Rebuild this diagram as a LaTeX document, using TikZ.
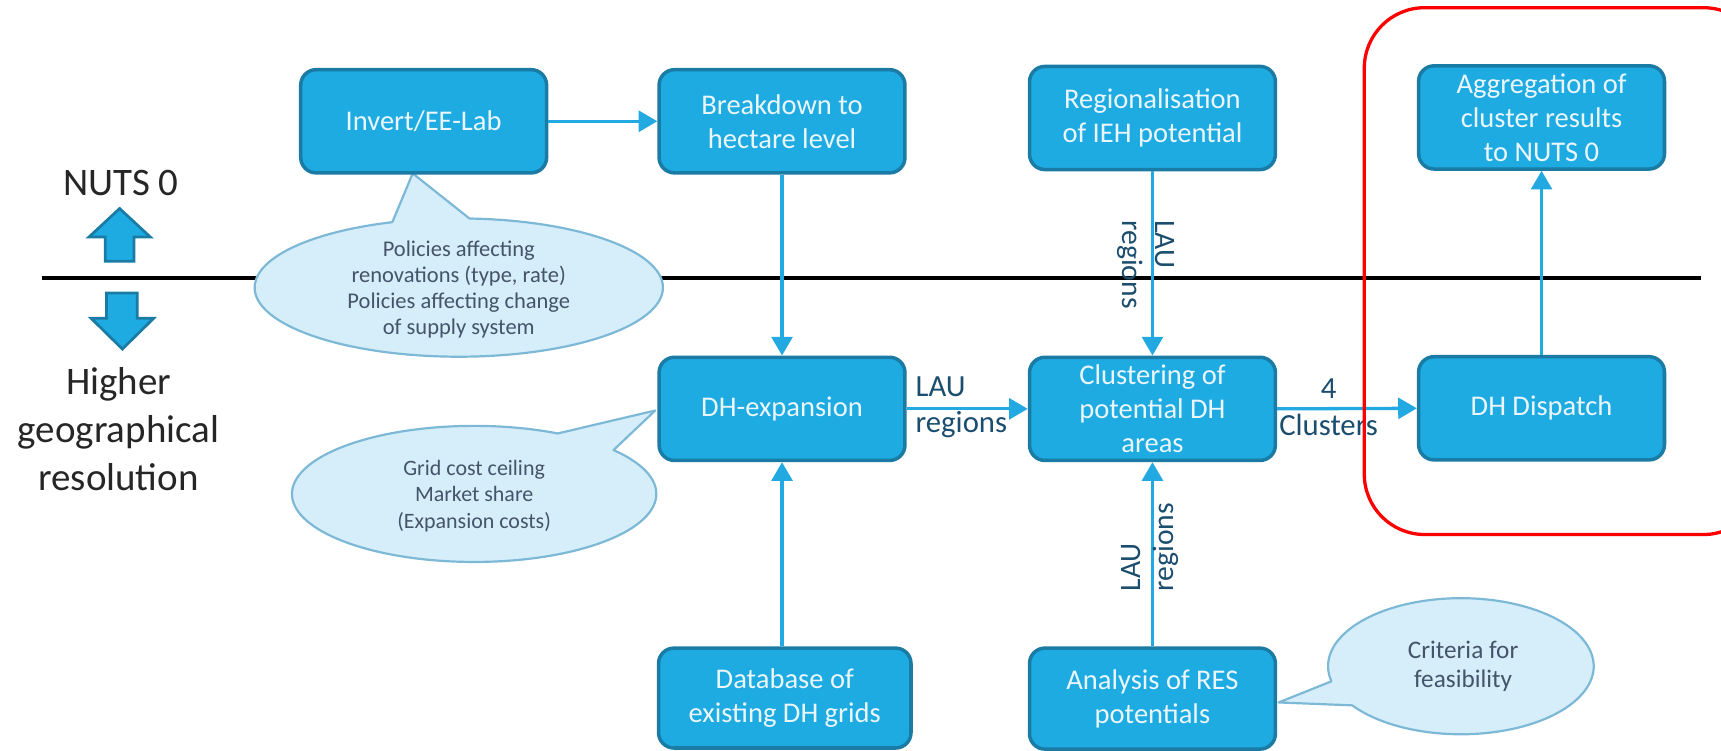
\documentclass[tikz,border=0pt]{standalone}
\usepackage{fontspec}
\setmainfont{Carlito}
\usetikzlibrary{arrows.meta,calc}
\definecolor{boxfill}{HTML}{1EABE2}
\definecolor{boxdraw}{HTML}{1A7BA5}
\definecolor{boxtext}{HTML}{EAF6FC}
\definecolor{arrowc}{HTML}{22A9E1}
\definecolor{lblc}{HTML}{1B4E6E}
\definecolor{callfill}{HTML}{D5EEF9}
\definecolor{calldraw}{HTML}{7DB9D6}
\definecolor{calltext}{HTML}{44546A}
\definecolor{titletext}{HTML}{262626}
\tikzset{
  stepbox/.style={draw=boxdraw, fill=boxfill, line width=3.2pt, rounded corners=14pt,
    minimum width=224pt, minimum height=94pt, align=center, text=boxtext,
    font=\fontsize{26}{31}\selectfont, inner sep=2pt},
  flow/.style={draw=arrowc, line width=3pt, -{Triangle[length=17pt,width=19pt]}},
  lbl/.style={text=lblc, font=\fontsize{28}{33}\selectfont, inner sep=0pt},
  vlbl/.style={text=lblc, font=\fontsize{27}{30}\selectfont, inner sep=0pt, align=left},
  callout/.style={draw=calldraw, fill=callfill, line width=2pt, line join=round},
  ctext/.style={text=calltext, align=center, font=\fontsize{20.5}{23.7}\selectfont, inner sep=0pt},
  bigarrow/.style={draw=boxdraw, fill=boxfill, line width=2.5pt, line join=miter},
  title/.style={text=titletext, align=center, font=\fontsize{35.5}{44}\selectfont, inner sep=0pt}
}
\begin{document}
\begin{tikzpicture}[x=1pt,y=-1pt]
\useasboundingbox (0,0) rectangle (1568,684);
\clip (0,0) rectangle (1568,684);

% level separator
\draw[line width=3.5pt, black] (38,253) -- (1550,253);

% left side legend
\node[title] (nuts) at (110,167) {NUTS 0};
\draw[bigarrow] (109,190) -- (137,216) -- (122,216) -- (122,238) -- (96,238) -- (96,216) -- (81,216) -- cycle;
\draw[bigarrow] (111.5,318) -- (140,290) -- (125,290) -- (125,267) -- (97,267) -- (97,290) -- (83,290) -- cycle;
\node[title] (higher) at (108,391) {Higher\\geographical\\resolution};

% callouts
\draw[callout] ($(418,262)+(273:186 and 63)$) arc[start angle=273, end angle=611, x radius=186, y radius=63] -- (376,158) -- cycle;
\node[ctext] (c1t) at (418,264) {Policies affecting\\renovations (type, rate)\\Policies affecting change\\of supply system};

\draw[callout] ($(432,450)+(319.9:166 and 62)$) arc[start angle=319.9, end angle=657.3, x radius=166, y radius=62] -- (597,374) -- cycle;
\node[ctext, font=\fontsize{20}{24}\selectfont] (c2t) at (432,452) {Grid cost ceiling\\Market share\\(Expansion costs)};

\draw[callout] ($(1331,607)+(167.2:121 and 62)$) arc[start angle=167.2, end angle=504.9, x radius=121, y radius=62] -- (1165,640) -- cycle;
\node[ctext, font=\fontsize{23}{27}\selectfont] (c3t) at (1333,607) {Criteria for\\feasibility};

% boxes
\node[stepbox] (inv) at (386,110.5) {Invert/EE-Lab};
\node[stepbox] (brk) at (712.5,110.5) {Breakdown to\\hectare level};
\node[stepbox] (reg) at (1050,107.5) {Regionalisation\\of IEH potential};
\node[stepbox] (agg) at (1404.5,107) {Aggregation of\\cluster results\\to NUTS 0};
\node[stepbox] (dhe) at (712.5,372.5) {DH-expansion};
\node[stepbox] (clu) at (1050,372.5) {Clustering of\\potential DH\\areas};
\node[stepbox] (dis) at (1404.5,372) {DH Dispatch};
\node[stepbox, minimum width=230pt, minimum height=91pt] (db) at (715,636) {Database of\\existing DH grids};
\node[stepbox, minimum height=92pt] (ana) at (1050,636.5) {Analysis of RES\\potentials};

% connectors
\draw[flow] (inv.east) -- (brk.west);
\draw[flow] (brk.south) -- (dhe.north);
\draw[flow] (reg.south) -- (clu.north);
\draw[flow] (dhe.east) -- (clu.west);
\draw[flow] (clu.east) -- (dis.west);
\draw[flow] (dis.north) -- (agg.south);
\draw[flow] (dhe.south |- db.north) -- (dhe.south);
\draw[flow] (ana.north) -- (clu.south);

% connector labels
\node[lbl, align=left, anchor=west] (l1) at (834,371) {LAU\\regions};
\node[lbl, align=center] (l2) at (1210.5,371) {4\\Clusters};
\node[vlbl, rotate=-90] (l3) at (1044,241) {LAU\\regions};
\node[vlbl, rotate=90] (l4) at (1048,498.5) {LAU\\regions};

% highlight frame
\draw[red, line width=3pt, rounded corners=55pt] (1243,7) rectangle (1607,487);
\end{tikzpicture}
\end{document}
